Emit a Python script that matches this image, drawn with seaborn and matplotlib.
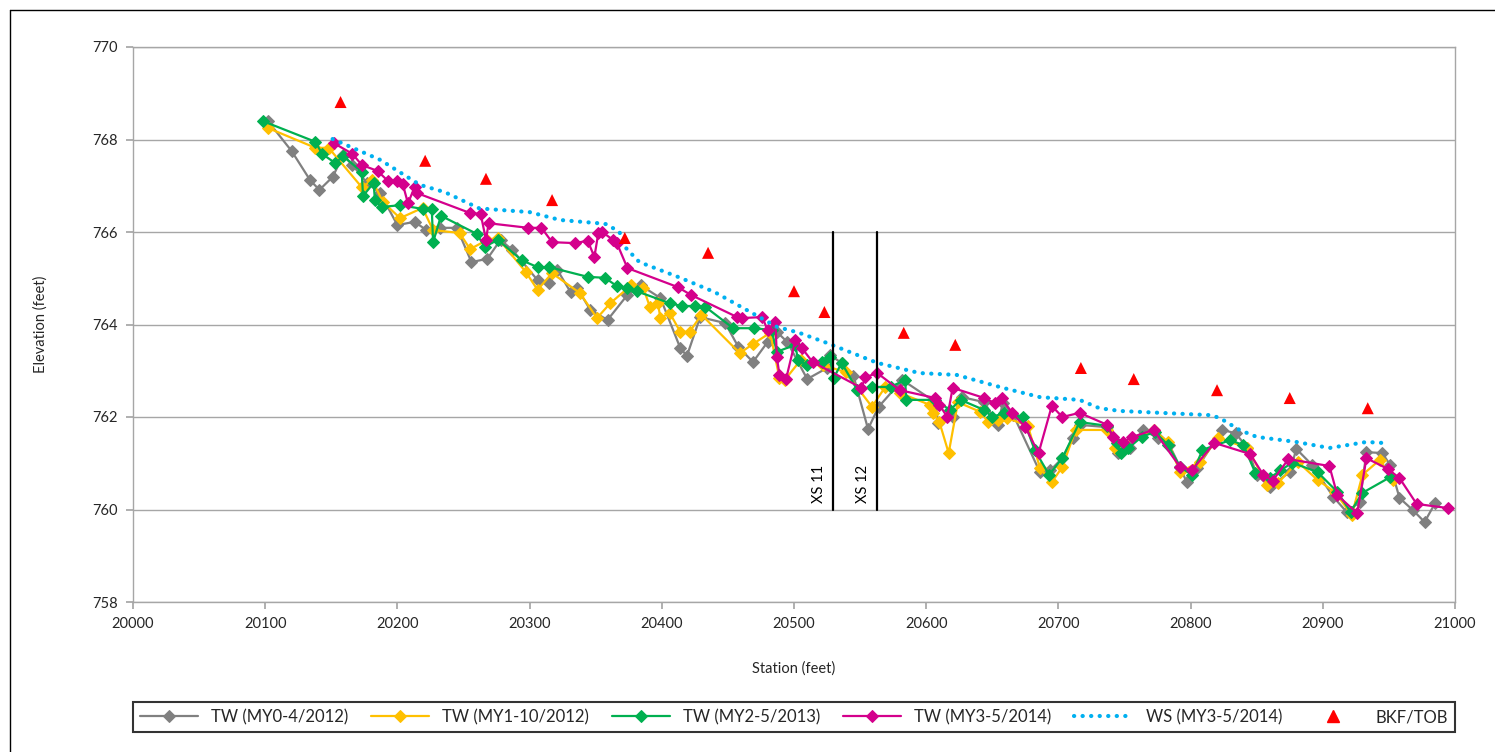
import matplotlib
matplotlib.use("Agg")
import matplotlib.pyplot as plt
import pandas as pd
import seaborn as sns
from matplotlib.lines import Line2D

# thalweg surveys (station ft, elevation ft)
MY0_STA = [20102, 20120, 20134, 20141, 20151, 20159, 20166, 20177, 20187, 20200, 20213, 20222, 20232, 20245,
           20256, 20268, 20278, 20287, 20306, 20315, 20321, 20331, 20336, 20346, 20359, 20374, 20384, 20399,
           20414, 20419, 20429, 20448, 20458, 20469, 20480, 20487, 20495, 20510, 20525, 20527, 20536, 20545,
           20556, 20564, 20582, 20607, 20609, 20620, 20627, 20644, 20654, 20658, 20666, 20686, 20694, 20703,
           20711, 20716, 20737, 20745, 20754, 20764, 20775, 20784, 20792, 20797, 20805, 20824, 20834, 20843,
           20850, 20860, 20875, 20880, 20892, 20908, 20918, 20928, 20933, 20945, 20951, 20958, 20968, 20977, 20985]
MY0_ELEV = [768.40, 767.75, 767.12, 766.91, 767.19, 767.66, 767.45, 767.06, 766.84, 766.15, 766.22, 766.04,
            766.09, 766.09, 765.35, 765.42, 765.83, 765.61, 764.96, 764.90, 765.18, 764.70, 764.79, 764.31,
            764.10, 764.64, 764.85, 764.57, 763.49, 763.32, 764.16, 764.03, 763.51, 763.19, 763.62, 763.84,
            763.62, 762.82, 763.06, 763.34, 763.17, 762.89, 761.74, 762.22, 762.80, 762.32, 761.87, 762.00,
            762.43, 762.32, 761.83, 762.30, 762.04, 760.81, 760.85, 761.11, 761.55, 761.83, 761.78, 761.22,
            761.33, 761.72, 761.55, 761.39, 760.92, 760.59, 760.90, 761.72, 761.65, 761.33, 760.75, 760.49,
            760.81, 761.31, 760.96, 760.27, 759.95, 760.16, 761.24, 761.22, 760.96, 760.25, 759.99, 759.73, 760.14]

MY1_STA = [20102, 20138, 20148, 20173, 20181, 20189, 20202, 20219, 20227, 20247, 20255, 20268, 20276, 20297,
           20306, 20317, 20338, 20351, 20361, 20377, 20386, 20391, 20397, 20399, 20406, 20414, 20421, 20430,
           20459, 20469, 20482, 20489, 20493, 20505, 20522, 20539, 20559, 20569, 20580, 20603, 20605, 20610,
           20617, 20624, 20641, 20647, 20654, 20661, 20677, 20686, 20695, 20703, 20713, 20737, 20743, 20772,
           20783, 20792, 20807, 20821, 20843, 20858, 20866, 20881, 20896, 20909, 20922, 20930, 20943, 20953]
MY1_ELEV = [768.25, 767.82, 767.82, 766.97, 767.12, 766.65, 766.30, 766.52, 766.04, 765.98, 765.63, 765.83,
            765.87, 765.14, 764.75, 765.11, 764.68, 764.14, 764.46, 764.85, 764.79, 764.38, 764.46, 764.14,
            764.25, 763.84, 763.84, 764.21, 763.38, 763.58, 763.82, 762.84, 762.80, 763.23, 763.12, 762.97,
            762.22, 762.65, 762.52, 762.26, 762.09, 761.89, 761.22, 762.32, 762.11, 761.89, 761.94, 761.98,
            761.81, 760.90, 760.59, 760.92, 761.72, 761.72, 761.33, 761.72, 761.46, 760.81, 761.03, 761.55,
            761.33, 760.53, 760.57, 761.03, 760.64, 760.38, 759.88, 760.75, 761.07, 760.64]

MY2_STA = [20098, 20138, 20143, 20153, 20159, 20173, 20174, 20182, 20183, 20188, 20202, 20219, 20226, 20227,
           20233, 20260, 20266, 20276, 20294, 20306, 20315, 20344, 20357, 20366, 20374, 20381, 20406, 20415,
           20425, 20433, 20454, 20470, 20483, 20487, 20501, 20503, 20510, 20521, 20527, 20530, 20536, 20548,
           20559, 20573, 20584, 20585, 20607, 20618, 20626, 20644, 20650, 20659, 20673, 20682, 20693, 20703,
           20716, 20737, 20744, 20747, 20753, 20763, 20773, 20783, 20792, 20801, 20809, 20830, 20840, 20849,
           20860, 20868, 20877, 20896, 20911, 20921, 20930, 20951]
MY2_ELEV = [768.40, 767.95, 767.69, 767.49, 767.64, 767.30, 766.78, 767.06, 766.69, 766.54, 766.58, 766.50,
            766.50, 765.78, 766.35, 765.96, 765.68, 765.83, 765.39, 765.24, 765.24, 765.03, 765.01, 764.83,
            764.79, 764.72, 764.46, 764.40, 764.40, 764.38, 763.92, 763.92, 763.88, 763.41, 763.56, 763.23,
            763.12, 763.19, 763.30, 762.84, 763.17, 762.58, 762.65, 762.65, 762.80, 762.37, 762.37, 762.15,
            762.37, 762.15, 762.00, 762.09, 762.00, 761.29, 760.75, 761.11, 761.89, 761.81, 761.44, 761.22,
            761.33, 761.57, 761.68, 761.39, 760.92, 760.75, 761.29, 761.50, 761.39, 760.79, 760.68, 760.85,
            761.01, 760.81, 760.38, 759.95, 760.36, 760.70]

MY3_STA = [20152, 20166, 20173, 20185, 20193, 20200, 20204, 20208, 20213, 20215, 20255, 20263, 20267, 20269,
           20299, 20309, 20317, 20334, 20344, 20349, 20352, 20355, 20363, 20366, 20374, 20412, 20422, 20457,
           20461, 20476, 20480, 20486, 20487, 20489, 20494, 20501, 20506, 20514, 20551, 20554, 20563, 20580,
           20607, 20610, 20616, 20620, 20644, 20652, 20657, 20665, 20675, 20685, 20695, 20703, 20716, 20737,
           20741, 20749, 20756, 20772, 20792, 20801, 20818, 20845, 20855, 20862, 20874, 20905, 20911, 20926,
           20933, 20949, 20958, 20971, 20995]
MY3_ELEV = [767.92, 767.69, 767.45, 767.32, 767.10, 767.10, 767.04, 766.62, 766.97, 766.84, 766.41, 766.39,
            765.83, 766.19, 766.09, 766.09, 765.78, 765.76, 765.81, 765.46, 765.98, 766.00, 765.83, 765.76,
            765.22, 764.81, 764.64, 764.16, 764.14, 764.16, 763.88, 764.05, 763.30, 762.91, 762.82, 763.66,
            763.49, 763.19, 762.63, 762.86, 762.95, 762.58, 762.41, 762.26, 762.00, 762.63, 762.41, 762.30,
            762.41, 762.09, 761.78, 761.22, 762.24, 762.00, 762.09, 761.83, 761.57, 761.46, 761.57, 761.72,
            760.92, 760.85, 761.44, 761.20, 760.75, 760.62, 761.09, 760.94, 760.31, 759.92, 761.11, 760.88,
            760.68, 760.12, 760.03]

# water surface MY3
WS_STA = [20151, 20187, 20217, 20236, 20262, 20300, 20323, 20352, 20358, 20368, 20372, 20383, 20414, 20440,
          20487, 20504, 20525, 20563, 20595, 20623, 20658, 20686, 20716, 20731, 20747, 20815, 20822, 20837,
          20850, 20880, 20905, 20933, 20945]
WS_ELEV = [768.01, 767.56, 767.02, 766.86, 766.51, 766.43, 766.26, 766.19, 766.17, 766.00, 765.68, 765.35,
           765.01, 764.70, 763.95, 763.82, 763.60, 763.17, 762.95, 762.91, 762.63, 762.43, 762.37, 762.19,
           762.13, 762.04, 761.98, 761.72, 761.57, 761.46, 761.33, 761.46, 761.44]

# bankfull / top of bank
BKF_STA = [20157, 20221, 20267, 20317, 20372, 20435, 20500, 20523, 20583, 20622, 20717, 20757, 20820, 20875, 20934]
BKF_ELEV = [768.81, 767.54, 767.15, 766.69, 765.87, 765.55, 764.72, 764.27, 763.82, 763.56, 763.06, 762.82,
            762.58, 762.41, 762.19]

XS_NAMES = ["XS 11", "XS 12"]
XS_STA = [20529.5, 20562.8]
XS_RANGE = (760, 766)

sns.set_theme(style="white")
plt.rcParams["font.family"] = ["Lato", "DejaVu Sans"]

fig = plt.figure(figsize=(14.95, 7.52), dpi=100)
ax = fig.add_axes([133 / 1495, 1 - 602 / 752, (1455 - 133) / 1495, (602 - 47) / 752])

tw_series = [
    ("TW (MY0-4/2012)", MY0_STA, MY0_ELEV, "#808080"),
    ("TW (MY1-10/2012)", MY1_STA, MY1_ELEV, "#FFC000"),
    ("TW (MY2-5/2013)", MY2_STA, MY2_ELEV, "#00B050"),
    ("TW (MY3-5/2014)", MY3_STA, MY3_ELEV, "#D4008C"),
]
for label, sta, elev, color in tw_series:
    df = pd.DataFrame({"station": sta, "elevation": elev})
    sns.lineplot(data=df, x="station", y="elevation", ax=ax, sort=False, estimator=None,
                 color=color, linewidth=1.6, marker="D", markersize=5.8,
                 markeredgecolor=color, markerfacecolor=color, label=label)

ws = pd.DataFrame({"station": WS_STA, "elevation": WS_ELEV})
sns.lineplot(data=ws, x="station", y="elevation", ax=ax, sort=False, estimator=None,
             color="#00B0F0", linewidth=3.0, linestyle=(0, (0.05, 2.0)), dash_capstyle="round",
             label="WS (MY3-5/2014)")

bkf = pd.DataFrame({"station": BKF_STA, "elevation": BKF_ELEV})
sns.scatterplot(data=bkf, x="station", y="elevation", ax=ax, marker="^", s=75,
                color="#FF0000", edgecolor="none", label="BKF/TOB", zorder=5)

for name, sta in zip(XS_NAMES, XS_STA):
    ax.plot([sta, sta], XS_RANGE, color="black", linewidth=1.6, zorder=6)
    ax.text(sta - 5, XS_RANGE[0] + 0.15, name, rotation=90, ha="right", va="bottom",
            fontsize=10.5, color="black")

ax.set_xlim(20000, 21000)
ax.set_ylim(758, 770)
ax.set_xticks(range(20000, 21001, 100))
ax.set_yticks(range(758, 771, 2))
ax.yaxis.grid(True, color="#A6A6A6", linewidth=1)
ax.xaxis.grid(False)
ax.set_axisbelow(True)
for side in ["left", "bottom", "right", "top"]:
    ax.spines[side].set_color("#A6A6A6")
    ax.spines[side].set_linewidth(1)
ax.tick_params(axis="both", which="major", labelsize=10.5, direction="out", length=5,
               color="#A6A6A6", left=True, bottom=True, pad=6)

ax.set_xlabel("Station (feet)", fontsize=10.5, labelpad=22)
ax.set_ylabel("Elevation (feet)", fontsize=10.5, labelpad=32)

handles, labels = ax.get_legend_handles_labels()
ax.get_legend().remove()
handles[-1] = Line2D([], [], linestyle="none", marker="^", color="#FF0000", markersize=8)
leg = fig.legend(handles, labels, loc="center", ncol=6, fontsize=12,
                 bbox_to_anchor=(133 / 1495, 1 - 737 / 752, (1455 - 133) / 1495, 40 / 752),
                 mode="expand", frameon=True, fancybox=False, handlelength=3.5,
                 borderaxespad=0, columnspacing=2.5)
leg.get_frame().set_edgecolor("black")
leg.get_frame().set_linewidth(1.5)

# outer chart border
fig.add_artist(Line2D([10 / 1495, 10 / 1495], [0, 1 - 10 / 752], color="black", linewidth=1))
fig.add_artist(Line2D([10 / 1495, 1], [1 - 10 / 752, 1 - 10 / 752], color="black", linewidth=1))

fig.savefig("out.png", dpi=100)
